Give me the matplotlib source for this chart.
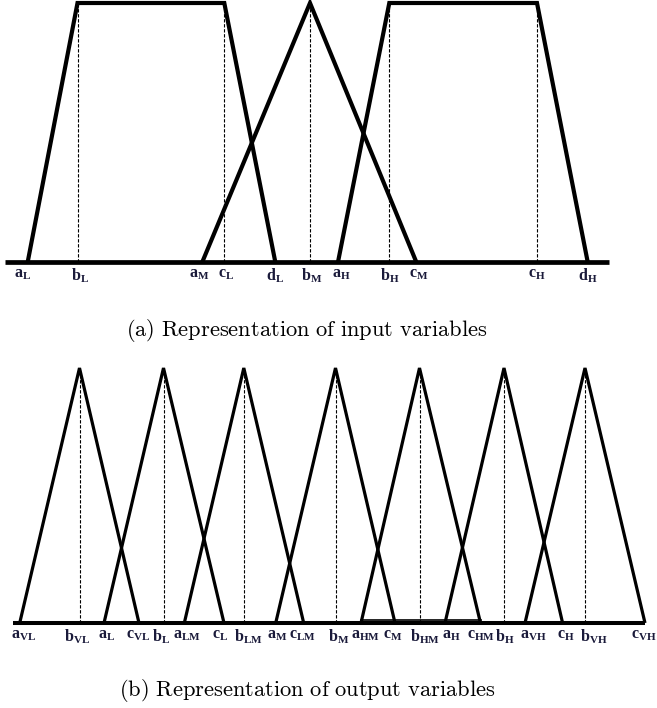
import matplotlib.pyplot as plt

plt.rcParams['mathtext.fontset'] = 'custom'
plt.rcParams['mathtext.rm'] = 'Liberation Serif'
plt.rcParams['mathtext.bf'] = 'Liberation Serif:bold'
plt.rcParams['mathtext.it'] = 'Liberation Serif:italic'

# input variables (trapezoid L, triangle M, trapezoid H), breakpoint positions
low_pts = [27.7, 77.5, 224.3, 275.3]      # aL bL cL dL
med_pts = [202.3, 310.0, 416.3]           # aM bM cM
high_pts = [338.0, 389.3, 537.0, 587.7]   # aH bH cH dH
trap_mu = [0, 1, 1, 0]
tri_mu = [0, 1, 0]
in_axis = [5, 608.7]

# output variables: seven triangles
out_sets = ['VL', 'L', 'LM', 'M', 'HM', 'H', 'VH']
out_a = [19.7, 104.0, 184.3, 275.7, 361.0, 445.0, 525.0]
out_b = [79.5, 163.5, 243.8, 335.5, 419.5, 504.0, 585.0]
out_c = [139.0, 224.0, 303.7, 395.0, 480.5, 562.6, 645.0]
out_axis = [12.6, 645.0]

captions = ['(a) Representation of input variables',
            '(b) Representation of output variables']

# small sideways shifts of the point names, in pixels (as in the original)
in_nudge = {'aL': -5, 'bL': 3, 'aM': -3, 'cL': 2, 'bM': 2, 'aH': 3, 'cM': 2}
out_nudge = {'aVL': 4, 'bVL': -2.5, 'aL': 2.5, 'cVL': -1, 'bL': -2, 'aLM': 2.5,
             'cL': -4, 'bLM': 5, 'aM': 1, 'cLM': -1, 'bM': 3.5, 'aHM': 4.5,
             'cM': -2.5, 'bHM': 5, 'aH': 6, 'cHM': 1, 'bH': 1, 'aVH': 8,
             'cH': 3.5, 'bVH': 9, 'cVH': -1.5}

W, H = 657, 708
lab_col = '#1a1a3a'
dash = (0, (3, 1.5))


def mf(ax, pts, mu, lw, names, sub, nudge):
    ax.plot(pts, mu, color='black', lw=lw, solid_joinstyle='miter',
            solid_capstyle='butt', clip_on=False, zorder=3)
    for x, m, n in zip(pts, mu, names):
        if m == 1:
            ax.plot([x, x], [0, 1], color='black', lw=0.8, ls=dash, zorder=2)
        ax.text(x + nudge.get(n + sub, 0), -0.018,
                r'$\mathbf{%s}_{\mathbf{%s}}$' % (n, sub),
                ha='center', va='top', fontsize=11.5, color=lab_col, clip_on=False)


def caption(x, y, s):
    s = s.replace(' ', r'\ ')
    fig.text(x / W, 1 - y / H, r'$\mathrm{%s}$' % s, ha='center', va='center',
             fontsize=16.2, math_fontfamily='cm')


fig = plt.figure(figsize=(W / 100, H / 100), dpi=100)

# (a) inputs
ax1 = fig.add_axes([0, 1 - 262 / H, 1, 259 / H])
ax1.plot(in_axis, [0, 0], color='black', lw=3.4, solid_capstyle='butt', clip_on=False, zorder=4)
mf(ax1, low_pts, trap_mu, 3.0, 'abcd', 'L', in_nudge)
mf(ax1, med_pts, tri_mu, 3.0, 'abc', 'M', in_nudge)
mf(ax1, high_pts, trap_mu, 3.0, 'abcd', 'H', in_nudge)

# (b) outputs
ax2 = fig.add_axes([0, 1 - 623 / H, 1, 255 / H])
ax2.plot(out_axis, [0, 0], color='black', lw=2.9, solid_capstyle='butt', clip_on=False, zorder=4)
ax2.plot([out_a[4], out_c[4]], [0.011, 0.011], color='black', lw=1.2, clip_on=False, zorder=4)
for s, a, b, c in zip(out_sets, out_a, out_b, out_c):
    mf(ax2, [a, b, c], tri_mu, 2.3, 'abc', s, out_nudge)

for ax in (ax1, ax2):
    ax.set_xlim(0, W)
    ax.set_ylim(0, 1)
    ax.axis('off')

caption(307, 331, captions[0])
caption(307.5, 690, captions[1])

fig.savefig('out.png', dpi=100)
